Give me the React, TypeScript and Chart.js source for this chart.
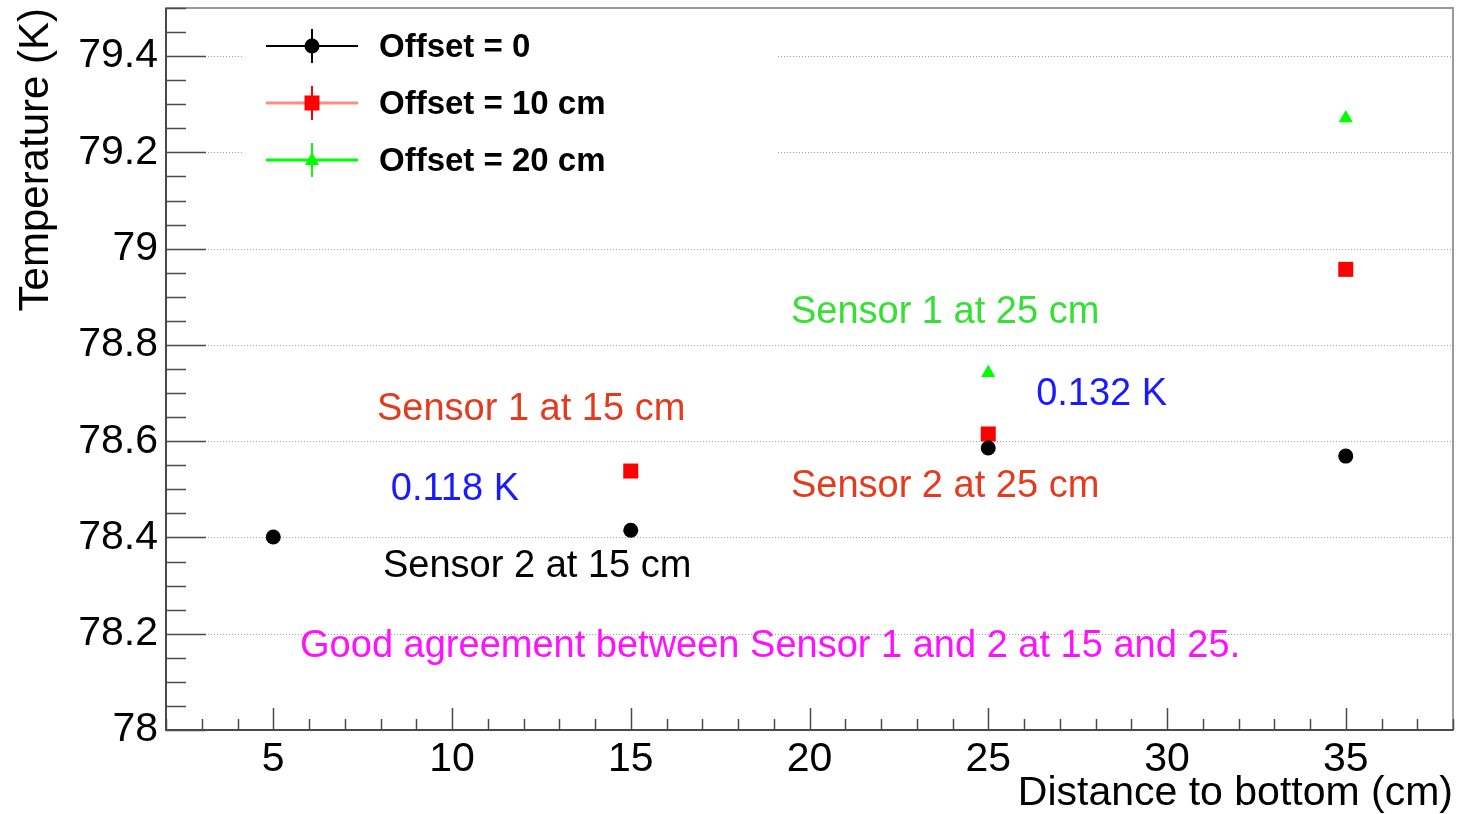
import React, { useEffect, useRef } from 'react';
import { Chart, registerables } from 'chart.js';

Chart.register(...registerables);

// ---- data ----
const offset0X = [5, 15, 25, 35];
const offset0Y = [78.401, 78.415, 78.586, 78.569];
const offset10X = [15, 25, 35];
const offset10Y = [78.538, 78.615, 78.957];
const offset20X = [25, 35];
const offset20Y = [78.742, 79.271];

const xTickValues = [5, 10, 15, 20, 25, 30, 35];
const yTickValues = [78, 78.2, 78.4, 78.6, 78.8, 79, 79.2, 79.4];

const legendLabels = ['Offset = 0', 'Offset = 10 cm', 'Offset = 20 cm'];

const annotationTexts = [
  'Sensor 1 at 25 cm',
  '0.132 K',
  'Sensor 1 at 15 cm',
  '0.118 K',
  'Sensor 2 at 25 cm',
  'Sensor 2 at 15 cm',
  'Good agreement between Sensor 1 and 2 at 15 and 25.',
];
const annotationX = [19.48, 26.34, 7.9, 8.29, 19.48, 8.07, 5.75];
const annotationY = [78.868, 78.697, 78.666, 78.5, 78.506, 78.34, 78.174];
const annotationColors = ['#35e035', '#1a1aff', '#e43a1e', '#1a1aff', '#e43a1e', '#000000', '#ff10ff'];

const FONT = '"Liberation Sans", Arial, Helvetica, sans-serif';

const toPoints = (xs: number[], ys: number[]) => xs.map((x, i) => ({ x, y: ys[i] }));

const rootPlugin = {
  id: 'rootStyle',
  beforeDatasetsDraw(chart: any) {
    const { ctx, chartArea: ca, scales } = chart;
    const y = scales.y;
    ctx.save();
    // dotted grid
    ctx.strokeStyle = '#a0a0a0';
    ctx.lineWidth = 1;
    ctx.setLineDash([1, 2]);
    for (const v of yTickValues) {
      if (v <= y.min || v >= y.max) continue;
      const py = Math.round(y.getPixelForValue(v)) + 0.5;
      ctx.beginPath();
      ctx.moveTo(ca.left, py);
      ctx.lineTo(ca.right, py);
      ctx.stroke();
    }
    ctx.setLineDash([]);

    // legend box
    ctx.fillStyle = '#ffffff';
    ctx.fillRect(243, 12, 535, 195);
    const rows = [46, 103, 160];
    const lineColors = ['#000000', '#ff8a8a', '#00ff00'];
    const barColors = ['#000000', '#ff0000', '#00ff00'];
    const lx1 = 266, lx2 = 358, mx = 312;
    rows.forEach((ry, i) => {
      ctx.strokeStyle = lineColors[i];
      ctx.lineWidth = i === 0 ? 2 : 3;
      ctx.beginPath();
      ctx.moveTo(lx1, ry);
      ctx.lineTo(lx2, ry);
      ctx.stroke();
      ctx.strokeStyle = barColors[i];
      ctx.lineWidth = 2;
      ctx.beginPath();
      ctx.moveTo(mx, ry - 17);
      ctx.lineTo(mx, ry + 17);
      ctx.stroke();
      ctx.fillStyle = barColors[i];
      if (i === 0) {
        ctx.beginPath();
        ctx.arc(mx, ry, 7.5, 0, Math.PI * 2);
        ctx.fill();
      } else if (i === 1) {
        ctx.fillRect(mx - 7.5, ry - 7.5, 15, 15);
      } else {
        ctx.beginPath();
        ctx.moveTo(mx, ry - 8);
        ctx.lineTo(mx + 7, ry + 5);
        ctx.lineTo(mx - 7, ry + 5);
        ctx.closePath();
        ctx.fill();
      }
      ctx.fillStyle = '#000000';
      ctx.font = `bold 33px ${FONT}`;
      ctx.textAlign = 'left';
      ctx.textBaseline = 'middle';
      ctx.fillText(legendLabels[i], 379, ry + 2);
    });
    ctx.restore();
  },
  afterDatasetsDraw(chart: any) {
    const { ctx, chartArea: ca, scales } = chart;
    const x = scales.x;
    const y = scales.y;
    ctx.save();
    // annotations
    ctx.font = `38px ${FONT}`;
    ctx.textAlign = 'left';
    ctx.textBaseline = 'middle';
    annotationTexts.forEach((t, i) => {
      ctx.fillStyle = annotationColors[i];
      ctx.fillText(t, x.getPixelForValue(annotationX[i]), y.getPixelForValue(annotationY[i]));
    });

    // frame
    ctx.strokeStyle = '#9a9a9a';
    ctx.lineWidth = 2;
    ctx.strokeRect(ca.left, ca.top, ca.right - ca.left, ca.bottom - ca.top);
    ctx.strokeStyle = '#4a4a4a';
    ctx.beginPath();
    ctx.moveTo(ca.left, ca.top);
    ctx.lineTo(ca.left, ca.bottom);
    ctx.lineTo(ca.right, ca.bottom);
    ctx.stroke();

    // ticks inside
    ctx.lineWidth = 1.5;
    ctx.strokeStyle = '#4a4a4a';
    for (let v = Math.ceil(x.min); v <= x.max; v += 1) {
      const px = Math.round(x.getPixelForValue(v)) + 0.5;
      const len = v % 5 === 0 ? 22 : 11;
      ctx.beginPath();
      ctx.moveTo(px, ca.bottom);
      ctx.lineTo(px, ca.bottom - len);
      ctx.stroke();
    }
    for (let k = 0; k <= Math.round((y.max - y.min) / 0.05); k++) {
      const v = y.min + k * 0.05;
      const py = Math.round(y.getPixelForValue(v)) + 0.5;
      const major = k % 4 === 0;
      ctx.beginPath();
      ctx.moveTo(ca.left, py);
      ctx.lineTo(ca.left + (major ? 40 : 20), py);
      ctx.stroke();
    }
    ctx.restore();
  },
};

export default function App() {
  const ref = useRef<HTMLCanvasElement | null>(null);
  useEffect(() => {
    document.body.style.margin = '0';
    const canvas = ref.current;
    if (!canvas) return;
    const chart = new Chart(canvas, {
      type: 'scatter',
      data: {
        datasets: [
          {
            label: legendLabels[0],
            data: toPoints(offset0X, offset0Y),
            pointStyle: 'circle',
            pointRadius: 7.5,
            pointBorderWidth: 0,
            backgroundColor: '#000000',
            borderColor: '#000000',
          },
          {
            label: legendLabels[1],
            data: toPoints(offset10X, offset10Y),
            pointStyle: 'rect',
            pointRadius: 10.6,
            pointBorderWidth: 0,
            backgroundColor: '#ff0000',
            borderColor: '#ff0000',
          },
          {
            label: legendLabels[2],
            data: toPoints(offset20X, offset20Y),
            pointStyle: 'triangle',
            pointRadius: 8.2,
            pointBorderWidth: 0,
            backgroundColor: '#00ff00',
            borderColor: '#00ff00',
          },
        ],
      },
      options: {
        responsive: false,
        animation: false,
        devicePixelRatio: 1,
        layout: { autoPadding: false, padding: { top: 8, right: 5, left: 0, bottom: 0 } },
        plugins: { legend: { display: false }, tooltip: { enabled: false } },
        scales: {
          x: {
            type: 'linear',
            min: 2,
            max: 38,
            grid: { display: false, drawTicks: false },
            border: { display: false },
            afterBuildTicks: (scale: any) => {
              scale.ticks = xTickValues.map((v) => ({ value: v }));
            },
            afterFit: (scale: any) => {
              scale.height = 84;
              scale.paddingLeft = 0;
              scale.paddingRight = 0;
            },
            ticks: {
              color: '#000',
              padding: 5,
              maxRotation: 0,
              autoSkip: false,
              font: { family: FONT, size: 41 },
              callback: (v: any) => String(v),
            },
            title: {
              display: true,
              text: 'Distance to bottom (cm)',
              align: 'end',
              color: '#000',
              font: { family: FONT, size: 41, lineHeight: 1.0 },
              padding: { top: 0, bottom: 0 },
            },
          },
          y: {
            type: 'linear',
            min: 78,
            max: 79.5,
            grid: { display: false, drawTicks: false },
            border: { display: false },
            afterBuildTicks: (scale: any) => {
              scale.ticks = yTickValues.map((v) => ({ value: v }));
            },
            afterFit: (scale: any) => {
              scale.width = 166;
              scale.paddingTop = 0;
              scale.paddingBottom = 0;
            },
            ticks: {
              color: '#000',
              padding: 8,
              autoSkip: false,
              font: { family: FONT, size: 41 },
              callback: (v: any) => String(Math.round(Number(v) * 10) / 10),
            },
            title: {
              display: true,
              text: 'Temperature (K)',
              align: 'end',
              color: '#000',
              font: { family: FONT, size: 42, lineHeight: 1.2 },
              padding: { top: 11, bottom: 0 },
            },
          },
        },
      },
      plugins: [rootPlugin],
    } as any);
    return () => chart.destroy();
  }, []);
  return (
    <div style={{ position: 'absolute', left: 0, top: 0, width: 1458, height: 814, background: '#fff' }}>
      <canvas ref={ref} width={1458} height={814} style={{ width: 1458, height: 814, display: 'block' }} />
    </div>
  );
}
